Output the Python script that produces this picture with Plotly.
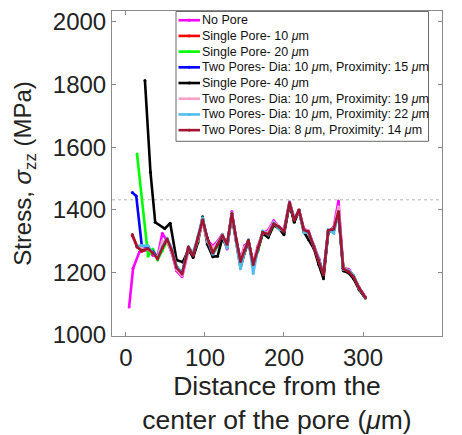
import plotly.graph_objects as go

# ---------------- data ----------------
distance_common = [28, 34, 40, 46, 52, 58, 64, 71, 79, 85, 91, 97, 103, 110, 116, 122,
                   128, 134, 140, 145, 150, 155, 161, 167, 173, 180, 187, 194, 200, 207,
                   213, 219, 225, 231, 238, 244, 250, 256, 263, 269, 275, 282, 288, 295, 303]

no_pore_x = [4, 9, 17, 22] + distance_common
no_pore_y = [1090, 1213, 1265, 1270,
             1272, 1255, 1250, 1325, 1300, 1262, 1205, 1186, 1270, 1262, 1305, 1362, 1302, 1285, 1300,
             1322, 1275, 1395, 1290, 1240, 1285, 1296, 1230, 1285, 1325, 1335, 1365, 1345, 1336, 1426,
             1372, 1395, 1340, 1332, 1285, 1245, 1195, 1330, 1345, 1428, 1215, 1210, 1190, 1152, 1122]

single10_x = [8, 14, 20] + distance_common
single10_y = [1318, 1284, 1268,
              1275, 1260, 1245, 1280, 1305, 1268, 1214, 1196, 1279, 1255, 1308, 1366, 1308, 1263, 1291,
              1316, 1289, 1386, 1298, 1236, 1271, 1302, 1226, 1281, 1327, 1321, 1354, 1344, 1331, 1421,
              1366, 1398, 1337, 1329, 1282, 1241, 1194, 1333, 1338, 1393, 1213, 1203, 1187, 1151, 1121]

single20_x = [14] + distance_common
single20_y = [1578,
              1252, 1275, 1240, 1270, 1300, 1265, 1220, 1198, 1276, 1250, 1300, 1365, 1305, 1258, 1283,
              1320, 1285, 1385, 1295, 1240, 1262, 1300, 1228, 1270, 1322, 1315, 1350, 1340, 1328, 1420,
              1362, 1398, 1334, 1328, 1283, 1238, 1195, 1330, 1336, 1392, 1215, 1205, 1190, 1150, 1118]

two10_15_x = [8, 13, 20] + distance_common
two10_15_y = [1455, 1444, 1286,
              1278, 1266, 1250, 1282, 1303, 1268, 1213, 1196, 1280, 1256, 1306, 1367, 1307, 1262, 1289,
              1317, 1288, 1387, 1299, 1236, 1270, 1302, 1226, 1280, 1327, 1321, 1354, 1345, 1330, 1422,
              1366, 1399, 1336, 1330, 1281, 1241, 1194, 1333, 1339, 1394, 1213, 1202, 1187, 1150, 1120]

single40_x = [24, 31, 37, 49, 56, 64, 72,
              79, 85, 91, 97, 103, 110, 116, 122, 128, 134, 140, 145, 150, 155, 161, 167, 173, 180,
              187, 194, 200, 207, 213, 219, 225, 231, 238, 244, 250, 256, 263, 269, 275, 282, 288,
              295, 303]
single40_y = [1813, 1520, 1360, 1340, 1357, 1240, 1233,
              1272, 1248, 1296, 1378, 1290, 1250, 1252, 1310, 1280, 1380, 1295, 1215, 1262, 1300,
              1222, 1272, 1325, 1312, 1352, 1340, 1320, 1420, 1360, 1398, 1330, 1305, 1275, 1225,
              1180, 1328, 1335, 1388, 1205, 1198, 1180, 1145, 1118]

two10_19_x = [14, 20] + distance_common
two10_19_y = [1282, 1276,
              1274, 1262, 1248, 1300, 1298, 1266, 1210, 1190, 1275, 1258, 1304, 1362, 1300, 1278, 1296,
              1320, 1280, 1390, 1292, 1238, 1280, 1297, 1228, 1283, 1326, 1330, 1360, 1345, 1334, 1424,
              1370, 1396, 1338, 1331, 1283, 1243, 1195, 1331, 1342, 1410, 1214, 1206, 1188, 1151, 1121]

two10_22_x = [14, 20] + distance_common
two10_22_y = [1284, 1286,
              1285, 1262, 1245, 1282, 1310, 1275, 1220, 1200, 1283, 1262, 1315, 1375, 1305, 1258, 1292,
              1320, 1278, 1390, 1290, 1212, 1265, 1305, 1197, 1275, 1332, 1320, 1358, 1338, 1332, 1425,
              1372, 1398, 1328, 1326, 1282, 1238, 1200, 1336, 1325, 1390, 1210, 1205, 1190, 1148, 1121]

two8_14_x = [8, 14, 20] + distance_common
two8_14_y = [1321, 1281, 1270,
             1276, 1262, 1244, 1278, 1307, 1270, 1215, 1195, 1281, 1254, 1310, 1368, 1310, 1262, 1290,
             1318, 1290, 1388, 1300, 1235, 1270, 1303, 1225, 1280, 1328, 1322, 1355, 1345, 1330, 1423,
             1367, 1400, 1336, 1330, 1281, 1240, 1193, 1334, 1339, 1395, 1212, 1202, 1186, 1150, 1120]

reference_stress = 1432

series_names = [
    "No Pore",
    "Single Pore- 10 <i>μ</i>m",
    "Single Pore- 20 <i>μ</i>m",
    "Two Pores- Dia: 10 <i>μ</i>m, Proximity: 15 <i>μ</i>m",
    "Single Pore- 40 <i>μ</i>m",
    "Two Pores- Dia: 10 <i>μ</i>m, Proximity: 19 <i>μ</i>m",
    "Two Pores- Dia: 10 <i>μ</i>m, Proximity: 22 <i>μ</i>m",
    "Two Pores- Dia: 8 <i>μ</i>m, Proximity: 14 <i>μ</i>m",
]
series_x = [no_pore_x, single10_x, single20_x, two10_15_x, single40_x, two10_19_x, two10_22_x, two8_14_x]
series_y = [no_pore_y, single10_y, single20_y, two10_15_y, single40_y, two10_19_y, two10_22_y, two8_14_y]
series_colors = ["#FF00FF", "#FF0000", "#00FF00", "#0000FF", "#000000", "#F7A1C6", "#4DBEEE", "#A2142F"]

x_ticks = [0, 100, 200, 300, 400]
y_ticks = [1000, 1200, 1400, 1600, 1800, 2000]

# ---------------- layout geometry (pixels) ----------------
W, H = 462, 435
ML, MR, MT, MB = 112, 20, 8, 99
PW, PH = W - ML - MR, H - MT - MB


def px(xp):
    return (xp - ML) / PW


def py(yp):
    return (MT + PH - yp) / PH


FONT = "Liberation Sans, Arial, Helvetica, sans-serif"
fig = go.Figure()
for name, xs, ys, col in zip(series_names, series_x, series_y, series_colors):
    fig.add_trace(go.Scatter(x=xs, y=ys, name=name, mode="lines+markers",
                             line=dict(color=col, width=2.6),
                             marker=dict(color=col, size=3), showlegend=False))

# reference (dashed) line in data coordinates
shapes = [dict(type="line", xref="paper", yref="y", x0=0, x1=1,
               y0=reference_stress, y1=reference_stress,
               line=dict(color="#b4b4b4", width=1, dash="3px,3px"), layer="below")]

# ---- legend box drawn in paper space ----
shapes.append(dict(type="rect", xref="paper", yref="paper",
                   x0=px(176), x1=px(428.5), y0=py(139.5), y1=py(8.5),
                   fillcolor="white", line=dict(color="#6a6a6a", width=1), layer="above"))
annotations = []
row0, row_step = 17.3, 15.85
for i, (name, col) in enumerate(zip(series_names, series_colors)):
    yc = row0 + i * row_step
    shapes.append(dict(type="line", xref="paper", yref="paper",
                       x0=px(178.5), x1=px(200), y0=py(yc), y1=py(yc),
                       line=dict(color=col, width=2.6), layer="above"))
    shapes.append(dict(type="circle", xref="paper", yref="paper",
                       x0=px(187.8), x1=px(190.8), y0=py(yc + 1.5), y1=py(yc - 1.5),
                       fillcolor=col, line=dict(color=col, width=0), layer="above"))
    annotations.append(dict(xref="paper", yref="paper", x=px(199.5), y=py(yc),
                            xanchor="left", yanchor="middle", showarrow=False,
                            text=name, font=dict(size=12.5, color="#111111", family=FONT)))

axis_common = dict(showline=True, linecolor="#8a8a8a", linewidth=1, mirror="allticks",
                   ticks="inside", ticklen=4, tickcolor="#8a8a8a", showgrid=False,
                   zeroline=False, tickfont=dict(size=24, color="#222222", family=FONT))

fig.update_layout(
    width=W, height=H,
    margin=dict(l=ML, r=MR, t=MT, b=MB),
    paper_bgcolor="white", plot_bgcolor="white",
    font=dict(family=FONT, color="#222222"),
    xaxis=dict(range=[-17.7, 400], tickvals=x_ticks,
               title=dict(text="Distance from the<br>center of the pore (<i>μ</i>m)",
                          font=dict(size=26.5), standoff=2),
               **axis_common),
    yaxis=dict(range=[997, 2035], tickvals=y_ticks,
               title=dict(text="Stress, <i>σ</i><sub>zz</sub> (MPa)",
                          font=dict(size=24), standoff=14),
               **axis_common),
    shapes=shapes,
    annotations=annotations,
    showlegend=False,
)

fig.write_html("out.html")
